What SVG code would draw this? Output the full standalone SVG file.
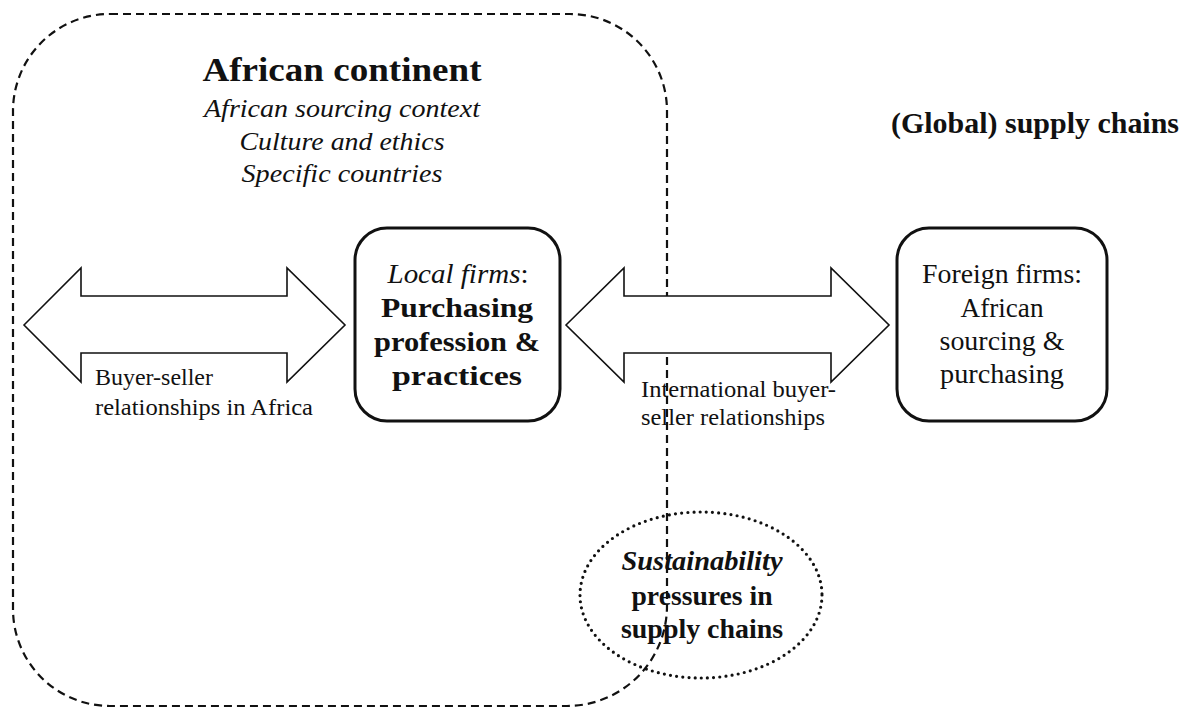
<svg xmlns="http://www.w3.org/2000/svg" width="1184" height="709" viewBox="0 0 1184 709">
<style>
text{font-family:"Liberation Serif","Times New Roman",serif;fill:#111;text-anchor:middle}
.h{font-size:33px;font-weight:bold}
.sub{font-size:26px;font-style:italic}
.lbl{font-size:23.5px;text-anchor:start}
.box{fill:#fff;stroke:#111;stroke-width:3}
.arrow{fill:#fff;stroke:#111;stroke-width:1.6;stroke-linejoin:miter}
.bt{font-size:27px}
.bb{font-size:28px;font-weight:bold}
</style>
<rect width="1184" height="709" fill="#fff"/>
<g id="region-africa">
<path d="M110 14 H570 A97 97 0 0 1 667 111 V606 A100 100 0 0 1 567 706 H110 A97 97 0 0 1 13 609 V111 A97 97 0 0 1 110 14 Z" fill="none" stroke="#111" stroke-width="2.2" stroke-dasharray="8 5"/>
<text class="h" x="342" y="81" textLength="279" lengthAdjust="spacingAndGlyphs">African continent</text>
<text class="sub" x="342" y="117" textLength="276" lengthAdjust="spacingAndGlyphs">African sourcing context</text>
<text class="sub" x="342" y="150" textLength="205" lengthAdjust="spacingAndGlyphs">Culture and ethics</text>
<text class="sub" x="342" y="182" textLength="201" lengthAdjust="spacingAndGlyphs">Specific countries</text>
</g>
<g id="region-global">
<text x="1035" y="133" style="font-size:29.5px;font-weight:bold" textLength="288" lengthAdjust="spacingAndGlyphs">(Global) supply chains</text>
</g>
<g id="connectors">
<polygon class="arrow" points="24,325 81,268 81,296 287,296 287,268 345,325 287,382 287,353 81,353 81,382"/>
<text class="lbl" x="95" y="385" textLength="118" lengthAdjust="spacingAndGlyphs">Buyer-seller</text>
<text class="lbl" x="95" y="415" textLength="218" lengthAdjust="spacingAndGlyphs">relationships in Africa</text>
<polygon class="arrow" points="566,325 624,268 624,296 831,296 831,268 889,325 831,382 831,353 624,353 624,382"/>
<text class="lbl" x="641" y="397" textLength="195" lengthAdjust="spacingAndGlyphs">International buyer-</text>
<text class="lbl" x="641" y="425" textLength="184" lengthAdjust="spacingAndGlyphs">seller relationships</text>
</g>
<g id="node-local">
<rect class="box" x="355" y="228" width="205" height="193" rx="32"/>
<text class="bt" x="458" y="283" textLength="141" lengthAdjust="spacingAndGlyphs"><tspan font-style="italic">Local firms</tspan>:</text>
<text class="bb" x="457" y="317" textLength="152" lengthAdjust="spacingAndGlyphs">Purchasing</text>
<text class="bb" x="457" y="351" textLength="166" lengthAdjust="spacingAndGlyphs">profession &amp;</text>
<text class="bb" x="457" y="385" textLength="130" lengthAdjust="spacingAndGlyphs">practices</text>
</g>
<g id="node-foreign">
<rect class="box" x="897" y="228" width="210" height="193" rx="32"/>
<text class="bt" x="1002" y="283" textLength="160" lengthAdjust="spacingAndGlyphs">Foreign firms:</text>
<text class="bt" x="1002" y="317" textLength="83" lengthAdjust="spacingAndGlyphs">African</text>
<text class="bt" x="1002" y="350" textLength="125" lengthAdjust="spacingAndGlyphs">sourcing &amp;</text>
<text class="bt" x="1002" y="383" textLength="124" lengthAdjust="spacingAndGlyphs">purchasing</text>
</g>
<g id="node-sustainability">
<ellipse cx="701" cy="595" rx="121" ry="83" fill="none" stroke="#111" stroke-width="3.2" stroke-dasharray="0 6.2" stroke-linecap="round"/>
<text class="bb" x="702" y="570" font-style="italic" textLength="161" lengthAdjust="spacingAndGlyphs">Sustainability</text>
<text class="bb" x="702" y="605" textLength="141" lengthAdjust="spacingAndGlyphs">pressures in</text>
<text class="bb" x="702" y="638" textLength="162" lengthAdjust="spacingAndGlyphs">supply chains</text>
</g>
</svg>
